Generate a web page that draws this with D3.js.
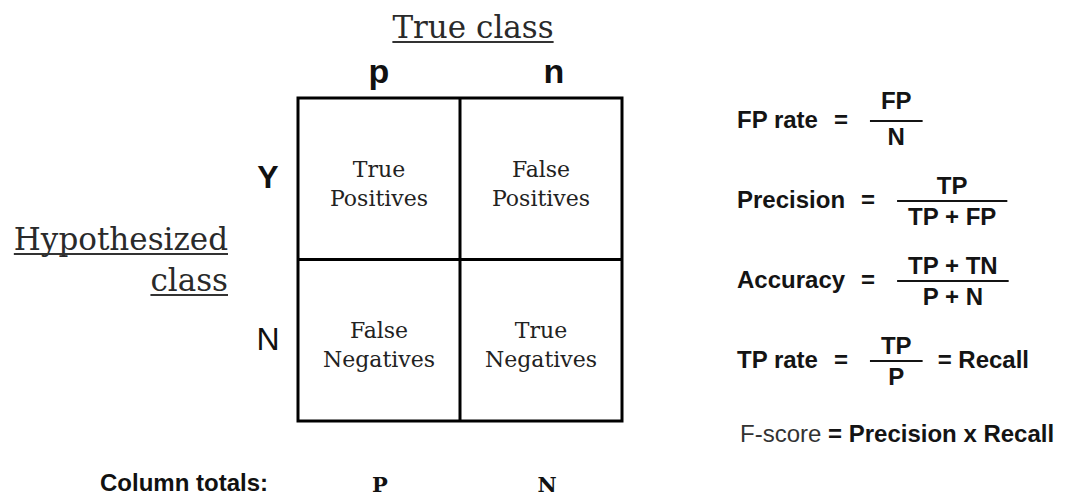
<!DOCTYPE html>
<html><head><meta charset="utf-8">
<script src="https://cdn.jsdelivr.net/npm/d3@7"></script>
<style>html,body{margin:0;padding:0;background:#fff;} svg{display:block}</style>
</head><body>
<svg id="c" width="1068" height="497"></svg>
<script>
// ---- data ----
const trueClasses = ["p", "n"];
const hypothesizedClasses = ["Y", "N"];
const cellRows = ["Y", "Y", "N", "N"];
const cellCols = ["p", "n", "p", "n"];
const cellLine1 = ["True", "False", "False", "True"];
const cellLine2 = ["Positives", "Positives", "Negatives", "Negatives"];
const columnTotals = ["P", "N"];
const formulaNames = ["FP rate", "Precision", "Accuracy", "TP rate"];
const formulaNumerators = ["FP", "TP", "TP + TN", "TP"];
const formulaDenominators = ["N", "TP + FP", "P + N", "P"];
const formulaSuffixes = ["", "", "", "= Recall"];
const fScoreLabel = "F-score";
const fScoreRhs = "= Precision x Recall";
const titleTop = "True class";
const titleLeft = ["Hypothesized", "class"];
const totalsLabel = "Column totals:";

// ---- drawing ----
const svg = d3.select("#c");
const serif = "'DejaVu Serif', 'Liberation Serif', serif";
const sans = "'Liberation Sans', Arial, sans-serif";

const x = d3.scaleBand().domain(trueClasses).range([298, 622]);
const y = d3.scaleBand().domain(hypothesizedClasses).range([98, 421]);
const fy = d3.scalePoint().domain([...formulaNames, fScoreLabel]).range([121, 441]);

function underline(t, dy) {
  const b = t.node().getBBox();
  const by = +t.attr("y") + dy;
  svg.append("line").attr("x1", b.x).attr("x2", b.x + b.width)
    .attr("y1", by).attr("y2", by).attr("stroke", "#333").attr("stroke-width", 2);
}

// top title
const tt = svg.append("text").attr("x", 473).attr("y", 38)
  .attr("text-anchor", "middle").attr("font-family", serif).attr("font-size", 31)
  .attr("fill", "#2a2a2a").text(titleTop);
underline(tt, 4);

// left title
titleLeft.forEach((s, i) => {
  const t = svg.append("text").attr("x", 228).attr("y", [250, 291][i])
    .attr("text-anchor", "end").attr("font-family", serif).attr("font-size", 31)
    .attr("fill", "#2a2a2a").text(s);
  underline(t, 4);
});

// column headers
svg.selectAll("text.colh").data(trueClasses).join("text").attr("class", "colh")
  .attr("x", d => x(d) + x.bandwidth() / 2 + (d === "n" ? 13 : 0))
  .attr("y", 83).attr("text-anchor", "middle")
  .attr("font-family", sans).attr("font-weight", "bold").attr("font-size", 34)
  .attr("fill", "#111").text(d => d);

// row headers
svg.selectAll("text.rowh").data(hypothesizedClasses).join("text").attr("class", "rowh")
  .attr("x", 268).attr("y", d => y(d) + y.bandwidth() / 2 + (d === "Y" ? 9 : 10))
  .attr("text-anchor", "middle")
  .attr("font-family", sans).attr("font-weight", d => d === "Y" ? "bold" : "normal")
  .attr("font-size", 32).attr("fill", "#111").text(d => d);

// grid
const g = svg.append("g").attr("fill", "none").attr("stroke", "#000").attr("stroke-width", 3);
g.append("rect").attr("x", x.range()[0]).attr("y", y.range()[0])
  .attr("width", x.range()[1] - x.range()[0]).attr("height", y.range()[1] - y.range()[0]);
g.append("line").attr("x1", x("n")).attr("x2", x("n")).attr("y1", y.range()[0]).attr("y2", y.range()[1]);
g.append("line").attr("x1", x.range()[0]).attr("x2", x.range()[1]).attr("y1", y("N")).attr("y2", y("N"));

// cells
cellRows.forEach((r, i) => {
  const cx = x(cellCols[i]) + x.bandwidth() / 2;
  const cy = y(r) + y.bandwidth() / 2;
  const t = svg.append("text").attr("text-anchor", "middle").attr("font-family", serif)
    .attr("font-size", 22).attr("fill", "#222");
  t.append("tspan").attr("x", cx).attr("y", cy - 2).text(cellLine1[i]);
  t.append("tspan").attr("x", cx).attr("y", cy + 27).text(cellLine2[i]);
});

// column totals
svg.append("text").attr("x", 100).attr("y", 491).attr("font-family", sans)
  .attr("font-weight", "bold").attr("font-size", 24).attr("fill", "#111").text(totalsLabel);
svg.selectAll("text.tot").data(columnTotals).join("text").attr("class", "tot")
  .attr("x", (d, i) => x(trueClasses[i]) + x.bandwidth() / 2 + (i ? 6 : 1))
  .attr("y", 492).attr("text-anchor", "middle")
  .attr("font-family", serif).attr("font-weight", "bold").attr("font-size", 21)
  .attr("fill", "#111").text(d => d);

// formulas
const fx0 = 737;
formulaNames.forEach((name, i) => {
  const ly = fy(name);
  const fg = svg.append("g").attr("font-family", sans).attr("font-weight", "bold")
    .attr("font-size", 24).attr("fill", "#141414");
  const lab = fg.append("text").attr("x", fx0).attr("y", ly + 7).text(name);
  const lw = lab.node().getComputedTextLength();
  const eqX = fx0 + lw + 16;
  const eq = fg.append("text").attr("x", eqX).attr("y", ly + 7).text("=");
  const ew = eq.node().getComputedTextLength();
  const fracL = eqX + ew + 22;
  const num = fg.append("text").attr("y", i === 0 ? ly - 12 : ly - 7).attr("text-anchor", "middle").text(formulaNumerators[i]);
  const den = fg.append("text").attr("y", ly + 24).attr("text-anchor", "middle").text(formulaDenominators[i]);
  const w = Math.max(num.node().getComputedTextLength(), den.node().getComputedTextLength()) + 22;
  num.attr("x", fracL + w / 2);
  den.attr("x", fracL + w / 2);
  fg.append("line").attr("x1", fracL).attr("x2", fracL + w).attr("y1", ly).attr("y2", ly)
    .attr("stroke", "#141414").attr("stroke-width", 2);
  if (formulaSuffixes[i]) {
    fg.append("text").attr("x", fracL + w + 15).attr("y", ly + 7).text(formulaSuffixes[i]);
  }
});
const fs = svg.append("text").attr("x", 740).attr("y", fy(fScoreLabel) + 1)
  .attr("font-family", sans).attr("font-size", 24).attr("fill", "#141414");
fs.append("tspan").attr("fill", "#333").text(fScoreLabel + " ");
fs.append("tspan").attr("font-weight", "bold").text(fScoreRhs);
</script>
</body></html>
